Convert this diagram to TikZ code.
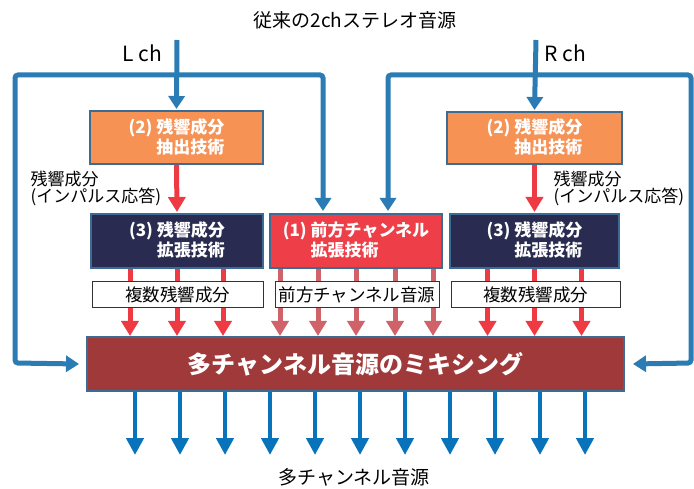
\documentclass[tikz,border=0pt]{standalone}
\usepackage{fontspec}
\setmainfont{Noto Sans CJK JP}
\usetikzlibrary{arrows.meta}

\definecolor{flowblue}{HTML}{2B7BB4}
\definecolor{outblue}{HTML}{0872BA}
\definecolor{extorange}{HTML}{F79255}
\definecolor{expnavy}{HTML}{2A2B50}
\definecolor{frontred}{HTML}{EE3E48}
\definecolor{resred}{HTML}{EE3B43}
\definecolor{frontpink}{HTML}{D0636A}
\definecolor{mixred}{HTML}{A0393A}
\definecolor{edgeblue}{HTML}{3C6B94}

\tikzset{
  techbox/.style={draw=edgeblue, line width=2pt, text=white, align=left,
    font=\fontsize{17}{20}\selectfont\bfseries, inner sep=0pt},
  namebox/.style={draw=black!80, line width=1pt, fill=white, inner sep=0pt,
    font=\fontsize{17.5}{18}\selectfont},
  flow/.style={draw=flowblue, line width=5pt, rounded corners=3pt,
    -{Triangle[width=16pt,length=13pt]}},
  resarrow/.style={draw=resred, line width=5pt, -{Triangle[width=17pt,length=15pt]}},
  frontarrow/.style={draw=frontpink, line width=5pt, -{Triangle[width=17pt,length=15pt]}},
  outarrow/.style={draw=outblue, line width=4.5pt, -{Triangle[width=17pt,length=17pt]}},
  plain/.style={font=\fontsize{19}{20}\selectfont}
}

\begin{document}
\begin{tikzpicture}[x=1pt, y=-1pt]
\useasboundingbox (0,0) rectangle (694,489);

% sources
\node[plain] (title) at (355,20) {従来の2chステレオ音源};
\node[font=\fontsize{21}{22}\selectfont] (lch) at (142,53) {L ch};
\node[font=\fontsize{21}{22}\selectfont] (rch) at (565,53) {R ch};
\coordinate (lin) at (177,40);
\coordinate (rin) at (536,40);

% boxes
\node[techbox, fill=extorange, minimum width=173pt, minimum height=53pt] (extl) at (176.5,137.5) {(2) 残響成分\\\phantom{(2) }抽出技術};
\node[techbox, fill=extorange, minimum width=175pt, minimum height=52pt] (extr) at (534.5,138) {(2) 残響成分\\\phantom{(2) }抽出技術};
\node[techbox, fill=expnavy, minimum width=172pt, minimum height=54pt] (expl) at (177,241) {(3) 残響成分\\\phantom{(3) }拡張技術};
\node[techbox, fill=frontred, minimum width=172pt, minimum height=54pt] (front) at (356,241) {(1) 前方チャンネル\\\phantom{(1) }拡張技術};
\node[techbox, fill=expnavy, minimum width=169pt, minimum height=54pt] (expr) at (534.5,241) {(3) 残響成分\\\phantom{(3) }拡張技術};
\node[techbox, fill=mixred, align=center, minimum width=537pt, minimum height=54pt,
  font=\fontsize{24}{24}\selectfont\bfseries] (mix) at (355.5,364) {多チャンネル音源のミキシング};

% impulse response labels
\node[anchor=west, align=left, font=\fontsize{17}{17}\selectfont] (resl) at (27,188) {残響成分\\(インパルス応答)};
\node[anchor=west, align=left, font=\fontsize{17}{17}\selectfont] (resr) at (550,188) {残響成分\\(インパルス応答)};

% stereo input
\coordinate (lsplit) at (177,75);
\coordinate (rsplit) at (536,75);
\draw[flow] (lin) -- ([yshift=1pt]extl.north);
\draw[flow] (lsplit) -- (15,75) -- (15,363) -- ([xshift=-7pt]mix.west);
\draw[flow] (lsplit) -- (323,75) -- ([yshift=2pt]front.north -| 323,0);
\draw[flow] (rin) -- ([yshift=1pt]extr.north);
\draw[flow] (rsplit) -- (691,75) -- (691,363) -- ([xshift=8pt]mix.east);
\draw[flow] (rsplit) -- (388,75) -- ([yshift=2pt]front.north -| 388,0);

% impulse response
\draw[resarrow] (extl.south) -- ([yshift=1pt]expl.north);
\draw[resarrow] (extr.south) -- ([yshift=1pt]expr.north);

% to mixing
\foreach \dx in {-47,0,46}
  \draw[resarrow] ([xshift=\dx pt]expl.south) -- ([xshift=\dx pt]expl.south |- mix.north);
\foreach \dx in {-76,-38,0,39,77}
  \draw[frontarrow] ([xshift=\dx pt]front.south) -- ([xshift=\dx pt]front.south |- mix.north);
\foreach \dx in {-47,0,47}
  \draw[resarrow] ([xshift=\dx pt]expr.south) -- ([xshift=\dx pt]expr.south |- mix.north);

\node[namebox, minimum width=171pt, minimum height=26pt] (multil) at (177.5,295) {複数残響成分};
\node[namebox, minimum width=164pt, minimum height=26pt] (frontsrc) at (357,295) {前方チャンネル音源};
\node[namebox, minimum width=169pt, minimum height=26pt] (multir) at (535.5,295) {複数残響成分};

% output
\foreach \x in {135,180,...,585} {
  \coordinate (o\x) at (\x,455);
  \draw[outarrow] (mix.south -| o\x) -- (o\x);
}
\node[plain] (out) at (354,477) {多チャンネル音源};

\end{tikzpicture}
\end{document}
